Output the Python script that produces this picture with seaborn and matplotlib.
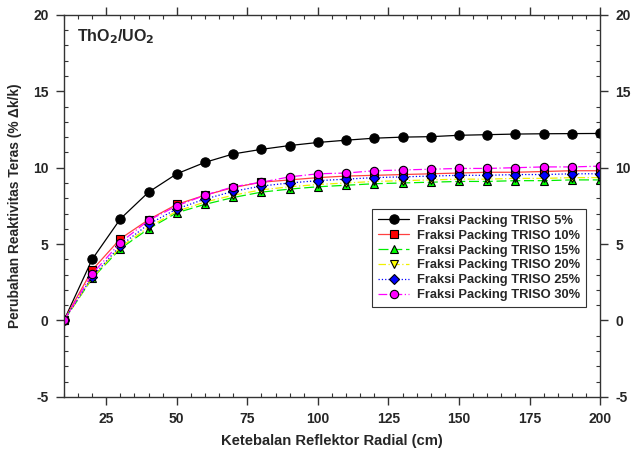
import numpy as np
import pandas as pd
import matplotlib
matplotlib.use("Agg")
import matplotlib.pyplot as plt
import seaborn as sns
from matplotlib.ticker import MultipleLocator, FixedLocator

sns.set_style("ticks")
plt.rcParams['font.family'] = ['Liberation Sans', 'DejaVu Sans']
plt.rcParams['font.weight'] = 'bold'
plt.rcParams['axes.unicode_minus'] = False

thickness = [10, 20, 30, 40, 50, 60, 70, 80, 90, 100, 110, 120, 130, 140, 150, 160, 170, 180, 190, 200]
triso_5 = [0, 4.0, 6.65, 8.4, 9.6, 10.35, 10.9, 11.2, 11.45, 11.65, 11.8, 11.93, 12.0, 12.03, 12.12, 12.16, 12.2, 12.22, 12.23, 12.24]
triso_10 = [0, 3.3, 5.35, 6.6, 7.6, 8.2, 8.7, 9.05, 9.2, 9.35, 9.45, 9.5, 9.55, 9.6, 9.65, 9.7, 9.7, 9.75, 9.8, 9.8]
triso_15 = [0, 2.75, 4.7, 6.0, 7.05, 7.6, 8.05, 8.4, 8.6, 8.75, 8.85, 8.95, 9.0, 9.05, 9.1, 9.1, 9.15, 9.15, 9.2, 9.2]
triso_20 = [0, 2.8, 4.8, 6.1, 7.15, 7.75, 8.2, 8.55, 8.75, 8.9, 9.0, 9.1, 9.15, 9.2, 9.25, 9.25, 9.3, 9.3, 9.35, 9.35]
triso_25 = [0, 2.85, 4.9, 6.3, 7.3, 7.95, 8.45, 8.8, 9.0, 9.15, 9.25, 9.35, 9.4, 9.45, 9.5, 9.5, 9.55, 9.55, 9.6, 9.6]
triso_30 = [0, 3.05, 5.1, 6.55, 7.5, 8.2, 8.75, 9.05, 9.4, 9.6, 9.65, 9.8, 9.85, 9.9, 9.95, 9.95, 10.0, 10.05, 10.05, 10.1]
labels = ["Fraksi Packing TRISO 5%", "Fraksi Packing TRISO 10%", "Fraksi Packing TRISO 15%",
          "Fraksi Packing TRISO 20%", "Fraksi Packing TRISO 25%", "Fraksi Packing TRISO 30%"]
x_ticks = [25, 50, 75, 100, 125, 150, 175, 200]
y_ticks = [-5, 0, 5, 10, 15, 20]

series = [triso_5, triso_10, triso_15, triso_20, triso_25, triso_30]
styles = [
    dict(color="black", marker="o", linestyle="-", ms=6.7, mfc="black"),
    dict(color="#ff4040", marker="s", linestyle="-", ms=5.6, mfc="red"),
    dict(color="#00ee00", marker="^", linestyle=(0, (8, 3)), ms=5.6, mfc="#00ff00"),
    dict(color="#f0f000", marker="v", linestyle=(0, (6, 2, 1, 2)), ms=5.6, mfc="#ffff00"),
    dict(color="#0000ff", marker="D", linestyle=":", ms=4.8, mfc="#0000ff"),
    dict(color="#ff00ff", marker="o", linestyle=(0, (7, 2, 1, 2)), ms=6.0, mfc="#ff00ff"),
]

fig = plt.figure(figsize=(6.33, 4.51), dpi=100)
ax = fig.add_axes([0.101, 0.120, 0.847, 0.847])

for vals, lab, st in zip(series, labels, styles):
    df = pd.DataFrame({"x": thickness, "y": vals})
    sns.lineplot(data=df, x="x", y="y", ax=ax, label=lab, color=st["color"],
                 marker=st["marker"], linestyle=st["linestyle"], markersize=st["ms"],
                 markerfacecolor=st["mfc"], markeredgecolor="black", markeredgewidth=0.8,
                 linewidth=0.9)

ax.set_xlim(10, 200)
ax.set_ylim(-5, 20)
ax.xaxis.set_major_locator(FixedLocator(x_ticks))
ax.xaxis.set_minor_locator(MultipleLocator(5))
ax.yaxis.set_major_locator(FixedLocator(y_ticks))
ax.yaxis.set_minor_locator(MultipleLocator(1))
ax.tick_params(which="major", direction="out", length=6, width=1, top=True, right=True,
               labelright=True, labelsize=10, pad=5, color="#333333")
ax.tick_params(which="minor", direction="in", length=3, width=0.8, top=True, right=True,
               color="#333333")
for t in ax.get_xticklabels() + ax.get_yticklabels():
    t.set_fontweight("bold")
for t in ax.yaxis.get_ticklabels():
    t.set_fontweight("bold")
for sp in ax.spines.values():
    sp.set_visible(True)
    sp.set_linewidth(1)
    sp.set_color("#333333")

ax.set_xlabel("Ketebalan Reflektor Radial (cm)", fontsize=10.6, fontweight="bold", labelpad=6)
ax.set_ylabel("Perubahan Reaktivitas Teras (% Δk/k)", fontsize=9.9, fontweight="bold", labelpad=8)
ax.text(0.025, 0.968, r"ThO$_\mathbf{2}$/UO$_\mathbf{2}$", transform=ax.transAxes, fontsize=11.5,
        fontweight="bold", va="top", ha="left")

leg = ax.legend(loc="upper left", bbox_to_anchor=(0.575, 0.492), frameon=True, fancybox=False,
                prop={"size": 9.3, "weight": "bold"}, handlelength=2.4, labelspacing=0.22,
                borderpad=0.45, handletextpad=0.6, borderaxespad=0, framealpha=1)
leg.get_frame().set_edgecolor("#333333")
leg.get_frame().set_linewidth(0.8)

fig.savefig("out.png", dpi=100)
